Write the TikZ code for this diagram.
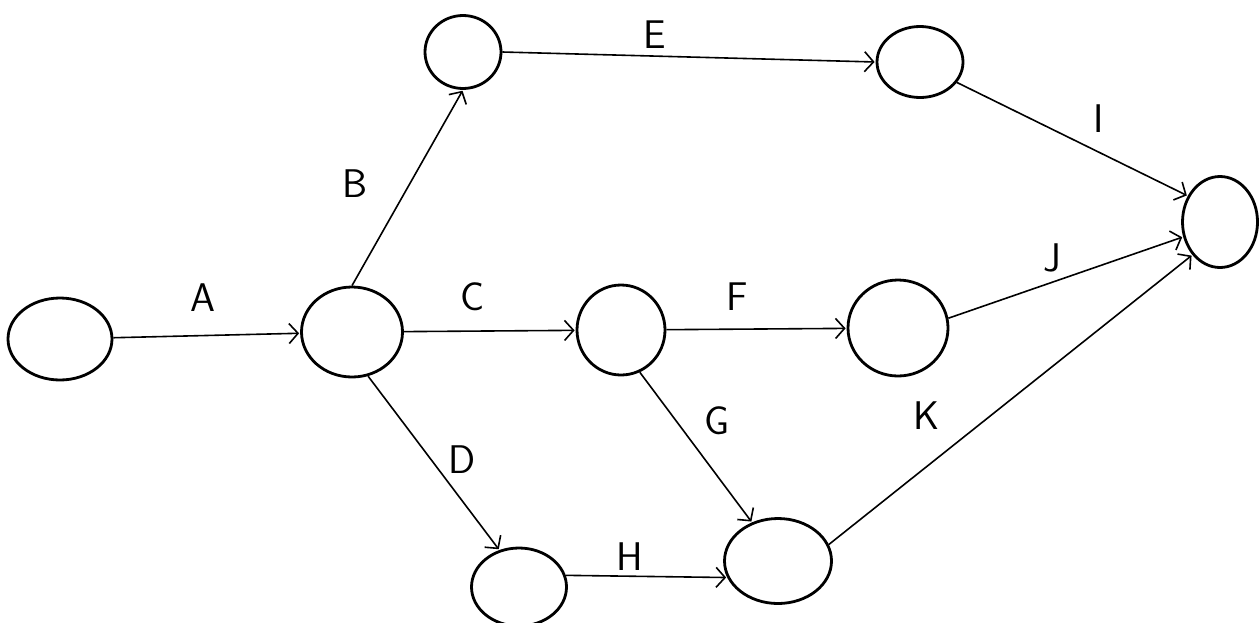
\documentclass[tikz,border=0pt]{standalone}
\usetikzlibrary{shapes.geometric,arrows.meta}
\begin{document}
\begin{tikzpicture}[x=1pt,y=-1pt,
  ev/.style={draw, ellipse, line width=2.8pt, inner sep=0pt},
  act/.style={line width=1.6pt, -{Straight Barb[length=9pt,width=20pt,line width=1.6pt]}, shorten >=1pt},
  lbl/.style={font=\sffamily\fontsize{40}{42}\selectfont, inner sep=0pt}]
\useasboundingbox[fill=white] (0,0) rectangle (1260,622);
\node[ev, minimum width=104pt, minimum height=82pt] (n1) at (60,339) {};
\node[ev, minimum width=101pt, minimum height=90pt] (n2) at (352,332) {};
\node[ev, minimum width=76pt, minimum height=73pt] (n3) at (463,52) {};
\node[ev, minimum width=86pt, minimum height=71pt] (n4) at (920,62) {};
\node[ev, minimum width=88pt, minimum height=90pt] (n5) at (621,330) {};
\node[ev, minimum width=100pt, minimum height=96pt] (n6) at (898,328) {};
\node[ev, minimum width=75pt, minimum height=91pt] (n7) at (1220,222) {};
\node[ev, minimum width=95pt, minimum height=78pt] (n8) at (519,587) {};
\node[ev, minimum width=107pt, minimum height=85pt] (n9) at (778,561) {};
\draw[act] (n1) -- (n2);
\draw[act] (n2.north) -- (n3.south);
\draw[act] (n2) -- (n5);
\draw[act] (n2.-70) -- (n8.118);
\draw[act] (n3.east) -- (n4.west);
\draw[act] (n5) -- (n6);
\draw[act] (n5.-66) -- (n9.124);
\draw[act] (n8.14) -- (n9.198);
\draw[act] (n4.-29) -- (n7.141);
\draw[act] (n6.11) -- (n7.202);
\draw[act] (n9.18) -- (n7.230);
\node[lbl] (lA) at (203,298) {A};
\node[lbl] (lB) at (355,184) {B};
\node[lbl] (lC) at (473,297) {C};
\node[lbl] (lD) at (462,460) {D};
\node[lbl] (lE) at (655,35) {E};
\node[lbl] (lF) at (737,297) {F};
\node[lbl] (lG) at (717,421) {G};
\node[lbl] (lH) at (630,557) {H};
\node[lbl] (lI) at (1099,119) {I};
\node[lbl] (lJ) at (1052,258) {J};
\node[lbl] (lK) at (927,416) {K};
\end{tikzpicture}
\end{document}
